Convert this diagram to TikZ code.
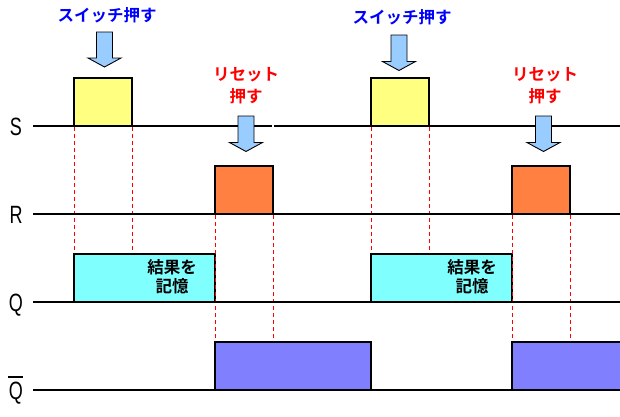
\documentclass[tikz,border=0pt]{standalone}
\usepackage{fontspec}
\setmainfont{Liberation Sans}
\newfontfamily\jpfont{Noto Sans CJK JP}[BoldFont={* Bold}]
\definecolor{sigyellow}{HTML}{FFFF80}
\definecolor{sigorange}{HTML}{FF8040}
\definecolor{sigcyan}{HTML}{80FFFF}
\definecolor{sigviolet}{HTML}{8080FF}
\definecolor{arrowblue}{HTML}{99CCFF}
\definecolor{txtblue}{HTML}{0000FF}
\definecolor{txtred}{HTML}{FF0000}
\tikzset{
  baseline/.style={draw=black, line width=1.2pt},
  pulse/.style={draw=black, line width=1.2pt},
  guide/.style={draw=txtred, line width=1pt, dash pattern=on 4pt off 3pt},
  pusharrow/.style={draw=black, fill=arrowblue, line width=0.9pt, line join=miter},
  sig/.style={font=\fontsize{25}{25}\selectfont, xscale=0.72, inner sep=0pt},
  jpblue/.style={font=\jpfont\bfseries\fontsize{16.5}{17}\selectfont, text=txtblue, inner sep=0pt, align=center},
  jpred/.style={font=\jpfont\bfseries\fontsize{16.5}{22}\selectfont, text=txtred, inner sep=0pt, align=center},
  jpblack/.style={font=\jpfont\bfseries\fontsize{16.5}{19}\selectfont, text=black, inner sep=0pt, align=center},
}
\newcommand{\pushar}[4]{% cx, top, headY, tip
  \draw[pusharrow] (#1-8,#2) -- (#1+8,#2) -- (#1+8,#3) -- (#1+16.5,#3) -- (#1,#4) -- (#1-16.5,#3) -- (#1-8,#3) -- cycle;}
\begin{document}
\begin{tikzpicture}[x=1pt,y=-1pt]
\useasboundingbox (0,0) rectangle (620,416);
% pulses
\draw[pulse, fill=sigyellow] (74,126) rectangle (132,78);
\draw[pulse, fill=sigyellow] (371,126) rectangle (429,78);
\draw[pulse, fill=sigorange] (215,214) rectangle (273,166);
\draw[pulse, fill=sigorange] (512,214) rectangle (570,166);
\draw[pulse, fill=sigcyan] (74,302) rectangle (215,254);
\draw[pulse, fill=sigcyan] (371,302) rectangle (512,254);
\draw[pulse, fill=sigviolet] (215,390) rectangle (371,342);
\draw[pulse, fill=sigviolet] (512,390) -- (512,342) -- (621,342) -- (621,390);
% guides
\foreach \x in {74,132,371,429} \draw[guide] (\x,127) -- (\x,253);
\foreach \x in {215,273,512,570} \draw[guide] (\x,215) -- (\x,341);
% baselines
\coordinate (sL) at (33,126); \coordinate (sR) at (620,126);
\coordinate (rL) at (33,214); \coordinate (rR) at (620,214);
\coordinate (qL) at (33,302); \coordinate (qR) at (620,302);
\coordinate (nL) at (33,390); \coordinate (nR) at (620,390);
\draw[baseline] (sL) -- (sR);
\draw[baseline] (rL) -- (rR);
\draw[baseline] (qL) -- (qR);
\draw[baseline] (nL) -- (nR);
\draw[white, line width=1.5pt] (273,124.5) -- (273,127.5);
% arrows
\pushar{104.5}{32}{58}{67}
\pushar{399}{35}{61.5}{70.5}
\pushar{246}{116}{142.5}{151.5}
\pushar{543.5}{116}{142.5}{151.5}
% signal labels
\node[sig, anchor=base] (labS) at (16,135) {S};
\node[sig, anchor=base] (labR) at (16,223) {R};
\node[sig, anchor=base] (labQ) at (16,311) {Q};
\node[sig, anchor=base] (labN) at (16,399) {Q};
\draw[black, line width=1.2pt] (8,377) -- (23,377);
% texts
\node[jpblue] (sw1) at (107,15) {スイッチ押す};
\node[jpblue] (sw2) at (402,17) {スイッチ押す};
\node[jpred] (rs1) at (246,86) {リセット\\押す};
\node[jpred] (rs2) at (545,86) {リセット\\押す};
\node[jpblack] (mem1) at (172,277) {結果を\\記憶};
\node[jpblack] (mem2) at (472,277) {結果を\\記憶};
\end{tikzpicture}
\end{document}
